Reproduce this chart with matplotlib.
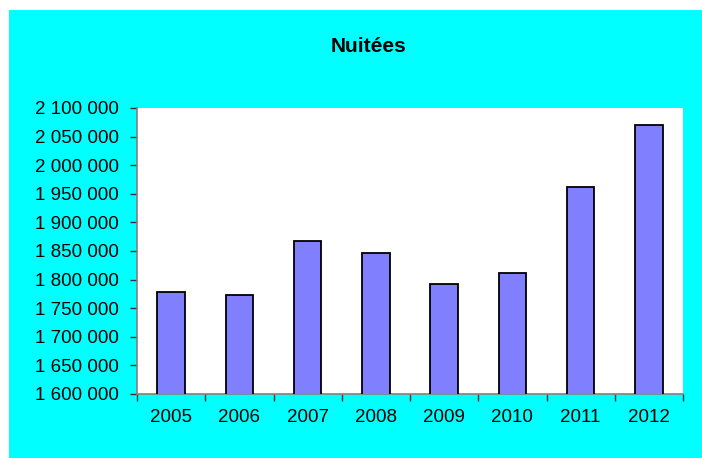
import matplotlib
matplotlib.use("Agg")
import matplotlib.pyplot as plt
from matplotlib.patches import Rectangle
from matplotlib.ticker import FuncFormatter, MultipleLocator

years = ["2005", "2006", "2007", "2008", "2009", "2010", "2011", "2012"]
nuitees = [1778800, 1772500, 1867000, 1846500, 1792300, 1812000, 1961400, 2070300]

plt.rcParams["font.family"] = ["Liberation Sans", "DejaVu Sans"]

W, H = 702, 458
fig = plt.figure(figsize=(W / 100, H / 100), dpi=100)
fig.patch.set_facecolor("white")

# cyan chart area (white strip at top and left, like the source)
bg = Rectangle((9 / W, 0), 1 - 9 / W, 1 - 10 / H, transform=fig.transFigure,
               facecolor="#00FFFF", edgecolor="none")
fig.add_artist(bg)
bg.set_zorder(-10)

ax = fig.add_axes([137 / W, 1 - 394 / H, (683 - 137) / W, (394 - 108) / H])
ax.set_zorder(5)
ax.set_facecolor("white")

x = list(range(len(years)))
ax.bar(x, nuitees, width=0.4, color="#8080FF", edgecolor="black", linewidth=1.3,
       bottom=0, zorder=3)

ax.set_xlim(-0.5, len(years) - 0.5)
ax.set_ylim(1600000, 2100000)
ax.yaxis.set_major_locator(MultipleLocator(50000))
ax.yaxis.set_major_formatter(FuncFormatter(lambda v, p: f"{int(v):,}".replace(",", " ")))

# category labels centred, tick marks between categories
ax.set_xticks(x)
ax.set_xticklabels(years)
ax.tick_params(axis="x", which="major", length=0, pad=10.5, labelsize=13.5)
ax.set_xticks([i - 0.5 for i in range(len(years) + 1)], minor=True)
ax.tick_params(axis="x", which="minor", length=5, width=1, color="#333333", direction="out")
ax.tick_params(axis="y", length=5, width=1, color="#333333", direction="out", pad=8,
               labelsize=13.5)

for s in ["top", "right"]:
    ax.spines[s].set_visible(False)
for s in ["left", "bottom"]:
    ax.spines[s].set_color("#808080")
    ax.spines[s].set_linewidth(1.2)

fig.text(369 / W, 1 - 51.7 / H, "Nuitées", ha="center", va="baseline",
         fontsize=15, fontweight="bold")

fig.savefig("out.png", dpi=100, facecolor=fig.get_facecolor())
